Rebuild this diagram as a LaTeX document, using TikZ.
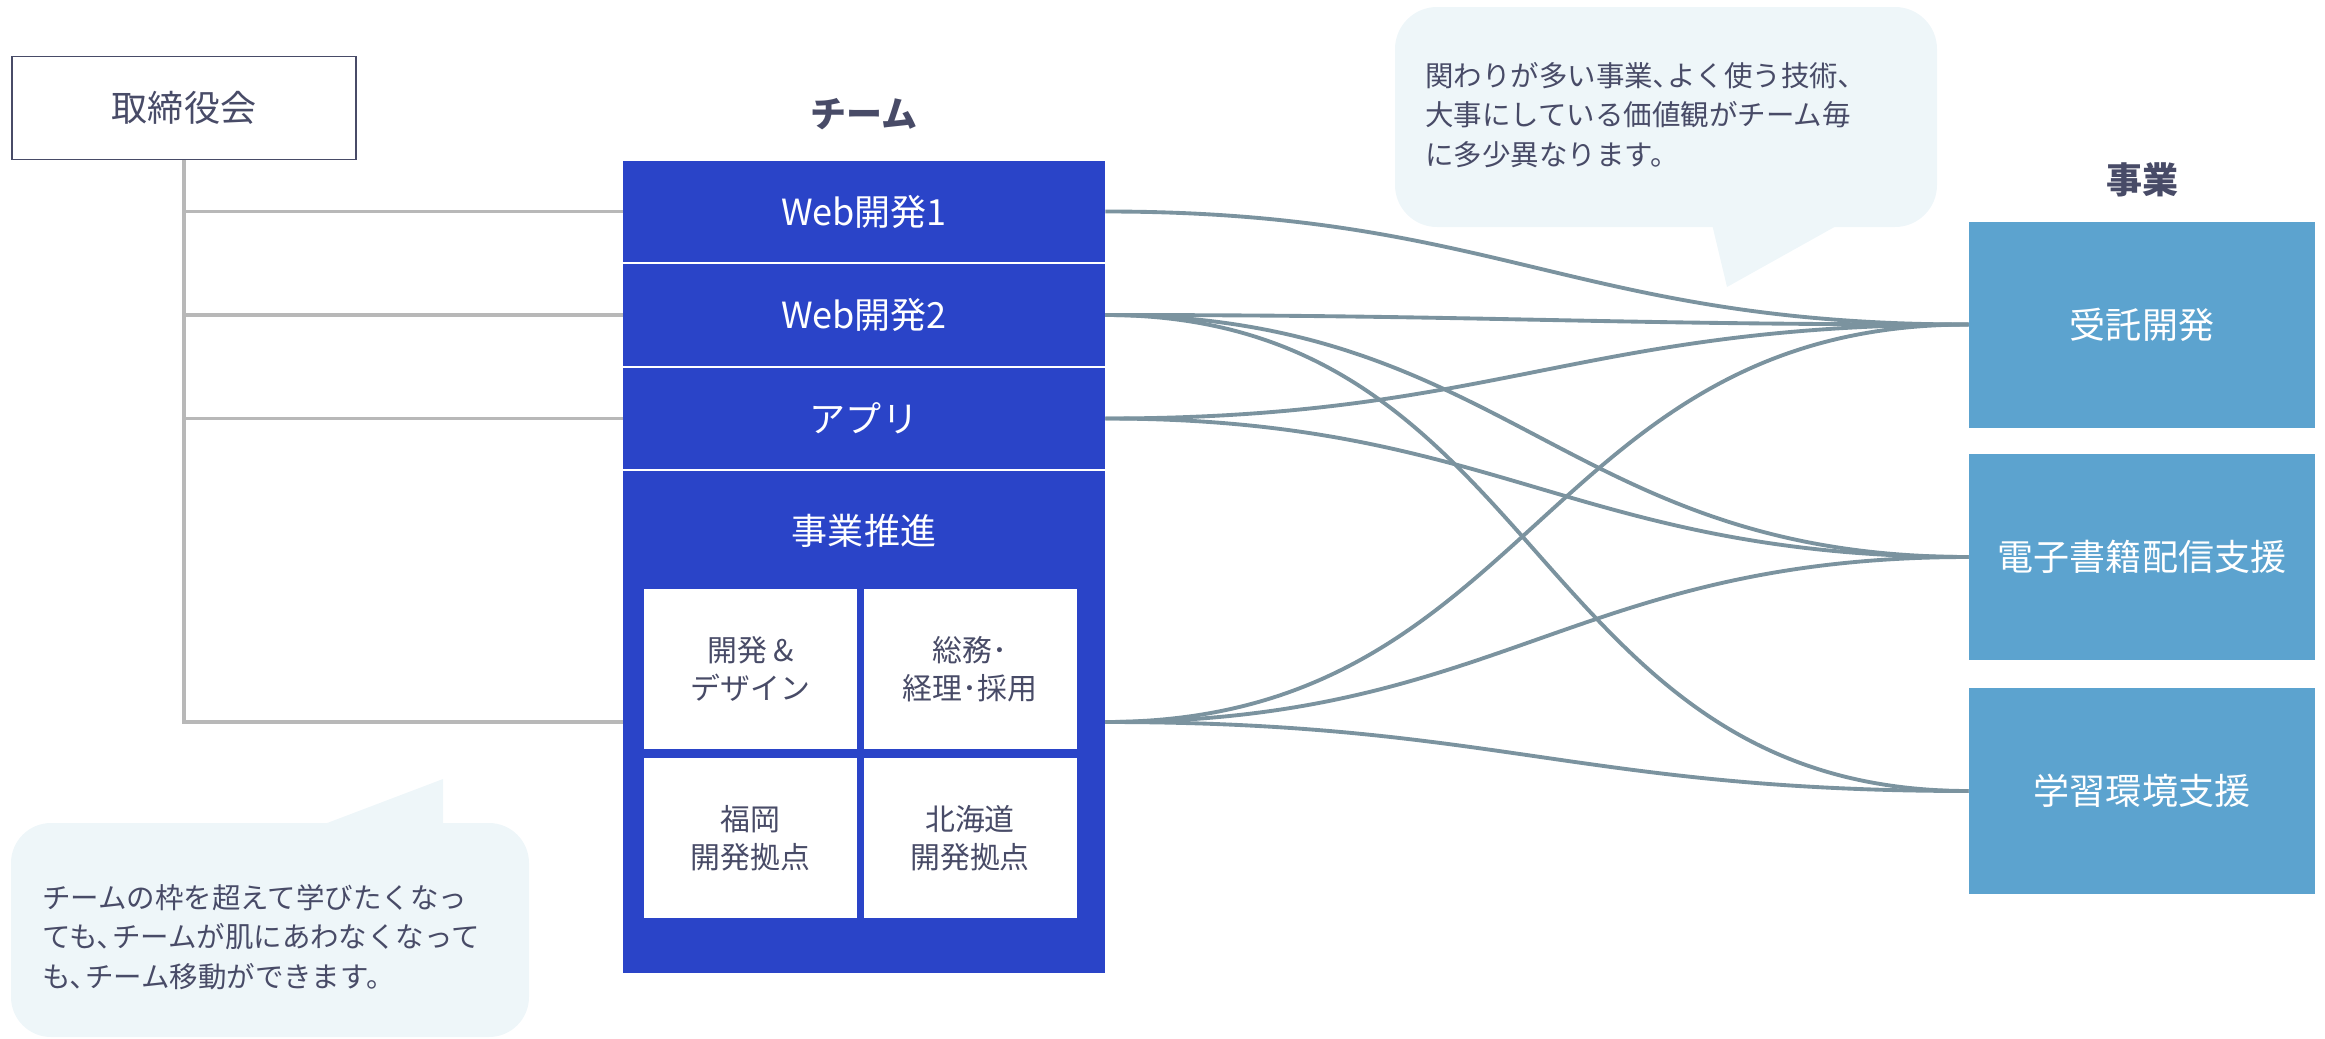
\documentclass[tikz,border=0pt]{standalone}
\usepackage{fontspec}
\setmainfont{Noto Sans CJK JP}
\definecolor{inkdark}{RGB}{72,75,103}
\definecolor{teamblue}{RGB}{42,68,200}
\definecolor{bizblue}{RGB}{92,163,207}
\definecolor{linkgray}{RGB}{123,147,159}
\definecolor{treegray}{RGB}{184,184,184}
\definecolor{bubblebg}{RGB}{238,246,249}
\tikzset{
  teamrow/.style={fill=teamblue, text=white, minimum width=96.4mm, minimum height=20.3mm,
    inner sep=0pt, font=\fontsize{20.5}{24}\selectfont},
  unitbox/.style={fill=white, text=inkdark, minimum width=42.6mm, minimum height=32mm,
    align=center, inner sep=0pt, font=\fontsize{17}{21.6}\selectfont},
  bizbox/.style={fill=bizblue, text=white, minimum width=69.2mm, minimum height=41.2mm,
    inner sep=0pt, font=\fontsize{20.5}{24}\selectfont},
  heading/.style={text=inkdark, font=\fontsize{20.5}{24}\selectfont\bfseries},
  note/.style={text=inkdark, align=left, inner sep=0pt, font=\fontsize{16.2}{22.5}\selectfont},
}
\begin{document}
\begin{tikzpicture}[x=0.2mm, y=-0.2mm]
  \useasboundingbox (0,0) rectangle (2325,1039);
  % speech bubbles
  \fill[bubblebg, rounded corners=8.4mm] (1395,7) rectangle (1937,227);
  \fill[bubblebg] (1711,220) -- (1727,287) -- (1847,220) -- cycle;
  \node[note, anchor=west] (note1) at (1425,115)
    {関わりが多い事業､よく使う技術､\\大事にしている価値観がチーム毎\\に多少異なります。};
  \fill[bubblebg, rounded corners=8mm] (11,823) rectangle (529,1037);
  \fill[bubblebg] (314,828) -- (443,779) -- (443,828) -- cycle;
  \node[note, anchor=west] (note2) at (42,937)
    {チームの枠を超えて学びたくなっ\\ても､チームが肌にあわなくなって\\も､チーム移動ができます。};
  % board
  \node[draw=inkdark, line width=0.8pt, minimum width=68.8mm, minimum height=20.6mm,
    text=inkdark, font=\fontsize{20.5}{24}\selectfont] (board) at (184,108) {取締役会};
  % teams
  \node[heading] (teamlabel) at (864,114) {チーム};
  \node[teamrow] (web1) at (864,211.5) {Web開発1};
  \node[teamrow] (web2) at (864,315) {Web開発2};
  \node[teamrow] (app) at (864,418.5) {アプリ};
  \node[teamrow, minimum height=100.4mm] (biz) at (864,722) {};
  \node[text=white, font=\fontsize{20.5}{24}\selectfont] (biztitle) at (864,531) {事業推進};
  \node[unitbox] (design) at (750.5,669) {開発 \&\\デザイン};
  \node[unitbox] (admin) at (970,669) {総務･\\経理･採用};
  \node[unitbox] (fukuoka) at (750.5,838) {福岡\\開発拠点};
  \node[unitbox] (hokkaido) at (970,838) {北海道\\開発拠点};
  % businesses
  \node[heading] (bizlabel) at (2142,180) {事業};
  \node[bizbox] (jutaku) at (2142,324.5) {受託開発};
  \node[bizbox] (ebook) at (2142,557) {電子書籍配信支援};
  \node[bizbox] (learn) at (2142,791) {学習環境支援};
  % tree
  \begin{scope}[treegray, line width=2.2pt]
    \draw (board.south) -- (board.south |- biz.west) -- (biz.west);
    \foreach \t in {web1,web2,app}
      \draw (board.south |- \t.west) -- (\t.west);
  \end{scope}
  % links
  \begin{scope}[linkgray, line width=2.2pt, out=0, in=180, looseness=1.15]
    \draw (web1.east) to (jutaku.west);
    \draw (web2.east) to (jutaku.west);
    \draw (web2.east) to (ebook.west);
    \draw (web2.east) to (learn.west);
    \draw (app.east) to (jutaku.west);
    \draw (app.east) to (ebook.west);
    \draw (biz.east) to (jutaku.west);
    \draw (biz.east) to (ebook.west);
    \draw (biz.east) to (learn.west);
  \end{scope}
\end{tikzpicture}
\end{document}
